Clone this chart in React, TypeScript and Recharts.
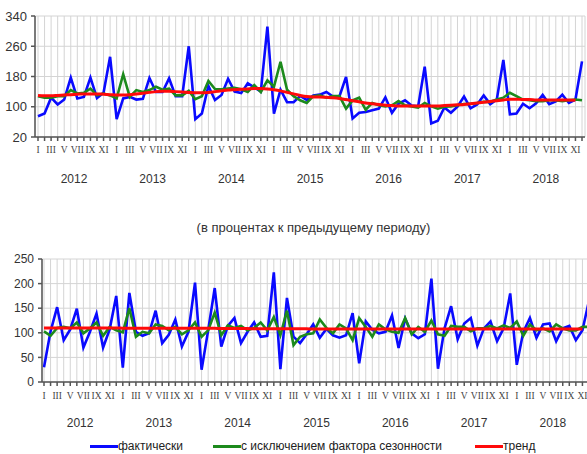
import { LineChart, Line, XAxis, YAxis, CartesianGrid } from 'recharts';

// Industrial output index: level (top) and % to previous month (bottom), Jan 2012 - Dec 2018
const years = ['2012', '2013', '2014', '2015', '2016', '2017', '2018'];
const monthLabels = ['I', 'II', 'III', 'IV', 'V', 'VI', 'VII', 'VIII', 'IX', 'X', 'XI', 'XII'];

const seriesNames = ['фактически', 'с исключением фактора сезонности', 'тренд'];
const seriesColors = ['#0a0aff', '#1c8a1c', '#ff0a0a'];

const subtitle = '(в процентах к предыдущему периоду)';

// top panel
const levelActual = [
  75, 82, 124, 106, 119, 177, 122, 126, 177, 123, 137, 232,
  67, 122, 126, 119, 121, 176, 139, 139, 175, 128, 128, 260,
  67, 82, 155, 118, 131, 174, 140, 136, 162, 151, 140, 312,
  82, 145, 112, 112, 129, 118, 130, 132, 139, 127, 128, 179,
  69, 84, 86, 91, 95, 125, 84, 108, 117, 103, 101, 206,
  56, 63, 98, 84, 100, 127, 96, 106, 130, 107, 119, 224,
  80, 82, 108, 96, 109, 131, 107, 114, 132, 110, 119, 220,
];
const levelAdjusted = [
  128, 124, 124, 128, 128, 144, 135, 137, 148, 130, 135, 130,
  122, 186, 126, 144, 139, 144, 153, 145, 148, 130, 130, 142,
  120, 128, 168, 147, 146, 148, 150, 146, 139, 157, 139, 170,
  153, 219, 145, 128, 117, 110, 128, 130, 124, 128, 128, 95,
  117, 124, 92, 110, 104, 101, 104, 115, 104, 101, 98, 110,
  101, 95, 100, 101, 104, 107, 108, 110, 113, 113, 119, 124,
  137, 128, 119, 117, 115, 115, 117, 117, 115, 117, 119, 117,
];
const levelTrend = [
  130, 129, 129, 130, 131, 132, 133, 134, 134, 134, 133, 132,
  131, 131, 132, 134, 136, 138, 140, 141, 141, 140, 139, 138,
  137, 137, 138, 140, 142, 144, 145, 146, 147, 148, 148, 147,
  145, 142, 138, 134, 130, 127, 126, 126, 125, 124, 122, 119,
  116, 113, 110, 108, 106, 104, 103, 102, 102, 102, 102, 102,
  102, 102, 103, 104, 105, 106, 108, 110, 112, 114, 116, 118,
  120, 120, 119, 119, 118, 118, 118, 118, 118, 118, 117, null,
];
const levelTicks = [20, 100, 180, 260, 340];

// bottom panel
const momActual = [
  30, 103, 152, 85, 107, 149, 70, 102, 139, 70, 107, 175,
  29, 181, 102, 94, 99, 145, 79, 96, 127, 72, 102, 202,
  25, 105, 191, 72, 114, 130, 79, 102, 121, 92, 94, 223,
  26, 171, 92, 79, 97, 117, 90, 108, 95, 90, 95, 140,
  38, 123, 106, 99, 102, 135, 69, 129, 99, 89, 97, 210,
  27, 109, 154, 87, 119, 130, 74, 109, 123, 83, 109, 180,
  35, 102, 130, 90, 117, 119, 83, 109, 114, 85, 105, 165,
];
const momAdjusted = [
  103, 94, 110, 112, 109, 121, 99, 109, 121, 94, 112, 105,
  101, 150, 92, 102, 99, 117, 114, 105, 112, 97, 105, 121,
  92, 105, 141, 95, 115, 110, 114, 105, 110, 121, 105, 132,
  95, 145, 75, 92, 97, 99, 127, 110, 99, 117, 109, 85,
  130, 112, 92, 117, 107, 102, 100, 130, 97, 112, 102, 125,
  97, 94, 114, 112, 112, 103, 109, 109, 114, 109, 115, 110,
  123, 94, 117, 105, 109, 103, 117, 109, 105, 105, 112, 112,
];
const momTrend = [
  110, 110, 110, 110, 110, 110, 110, 110, 110, 110, 110, 110,
  109.5, 109.5, 109.5, 109.5, 109.5, 109.5, 109, 109, 109, 109, 109, 109,
  109, 109, 109, 108.5, 108.5, 108.5, 108.5, 108.5, 108, 108, 108, 108,
  108, 108, 108, 108, 108, 107.5, 107.5, 107.5, 107.5, 107.5, 107.5, 107.5,
  107.5, 107.5, 107.5, 107.5, 107.5, 107.5, 107.5, 107.5, 107.5, 107.5, 107.5, 107.5,
  107.5, 107.5, 107.5, 107.5, 107.5, 107.5, 107.5, 107.5, 107.5, 107.5, 107.5, 107.5,
  107.5, 107.5, 107.5, 107.5, 107.5, 107.5, 107.5, 107.5, 107.5, 107.5, 107.5, null,
];
const momTicks = [0, 50, 100, 150, 200, 250];

const toRows = (a: number[], b: number[], c: (number | null)[]) =>
  a.map((v, i) => ({ idx: i, actual: v, adjusted: b[i], trend: c[i] }));

const levelData = toRows(levelActual, levelAdjusted, levelTrend);
const momData = toRows(momActual, momAdjusted, momTrend);

const lastIdx = levelActual.length - 1;
const monthTicks = levelData.map((d) => d.idx);
const yearTicks = years.map((_, i) => i * 12 + 5.5);

const SANS = '"Liberation Sans", Arial, sans-serif';
const SERIF = '"Liberation Serif", "Times New Roman", serif';
const AXIS = '#555';
const GRID = '#d4d4d4';

function Panel({
  data, ticks, domain, width, height, margin, yWidth, yFont, xPad, yearMargin, monthMargin,
}: {
  data: ReturnType<typeof toRows>;
  ticks: number[];
  domain: [number, number];
  width: number;
  height: number;
  margin: { top: number; right: number; bottom: number; left: number };
  yWidth: number;
  yFont: number;
  xPad: { left: number; right: number };
  yearMargin: number;
  monthMargin: number;
}) {
  return (
    <LineChart width={width} height={height} data={data} margin={margin}>
      <CartesianGrid stroke={GRID} strokeWidth={1} />
      <XAxis
        dataKey="idx"
        type="number"
        domain={[0, lastIdx]}
        ticks={monthTicks}
        interval={0}
        padding={xPad}
        height={22}
        tickSize={4}
        tickMargin={monthMargin}
        stroke={AXIS}
        axisLine={{ stroke: AXIS, strokeWidth: 1.5 }}
        tickLine={{ stroke: AXIS, strokeWidth: 1.5 }}
        tick={{ fontFamily: SERIF, fontSize: 9.5, fill: '#444' }}
        tickFormatter={(v: number) => (v % 2 === 0 ? monthLabels[v % 12] : '')}
      />
      <XAxis
        xAxisId="year"
        type="number"
        domain={[0, lastIdx]}
        ticks={yearTicks}
        interval={0}
        padding={xPad}
        height={36}
        tickSize={0}
        tickMargin={yearMargin}
        axisLine={false}
        tickLine={false}
        tick={{ fontFamily: SANS, fontSize: 12, fill: '#333' }}
        tickFormatter={(v: number) => years[Math.floor(v / 12)]}
      />
      <XAxis
        xAxisId="frame"
        orientation="top"
        type="number"
        domain={[0, lastIdx]}
        height={0}
        tick={false}
        tickLine={false}
        axisLine={{ stroke: AXIS, strokeWidth: 1.5 }}
      />
      <YAxis
        type="number"
        domain={domain}
        ticks={ticks}
        interval={0}
        width={yWidth}
        tickSize={4}
        tickMargin={4}
        axisLine={{ stroke: AXIS, strokeWidth: 1.5 }}
        tickLine={{ stroke: AXIS, strokeWidth: 1.5 }}
        tick={{ fontFamily: SANS, fontSize: yFont, fill: '#333' }}
      />
      <YAxis
        yAxisId="frame"
        orientation="right"
        type="number"
        domain={domain}
        width={0}
        tick={false}
        tickLine={false}
        axisLine={{ stroke: AXIS, strokeWidth: 1.5 }}
      />
      <Line type="linear" dataKey="actual" name={seriesNames[0]} stroke={seriesColors[0]} strokeWidth={2.6} dot={false} isAnimationActive={false} />
      <Line type="linear" dataKey="adjusted" name={seriesNames[1]} stroke={seriesColors[1]} strokeWidth={2.6} dot={false} isAnimationActive={false} />
      <Line type="monotone" dataKey="trend" name={seriesNames[2]} stroke={seriesColors[2]} strokeWidth={3} dot={false} isAnimationActive={false} />
    </LineChart>
  );
}

const legendLeft = [90, 213, 475];

export default function App() {
  return (
    <div style={{ position: 'fixed', left: 0, top: 0, width: 587, height: 454, overflow: 'hidden', background: '#fff' }}>
      <div style={{ position: 'absolute', left: 0, top: 0 }}>
        <Panel
          data={levelData}
          ticks={levelTicks}
          domain={[20, 340]}
          width={587}
          height={200}
          margin={{ top: 16, right: 2, bottom: 5, left: 1 }}
          yWidth={34}
          yFont={13}
          xPad={{ left: 3, right: 3 }}
          monthMargin={5}
          yearMargin={15}
        />
      </div>
      <div
        style={{
          position: 'absolute', left: 0, top: 220, width: 587, textAlign: 'center',
          fontFamily: SANS, fontSize: 13, color: '#333', paddingLeft: 40, boxSizing: 'border-box',
        }}
      >
        {subtitle}
      </div>
      <div style={{ position: 'absolute', left: 0, top: 240 }}>
        <Panel
          data={momData}
          ticks={momTicks}
          domain={[0, 250]}
          width={600}
          height={200}
          margin={{ top: 19, right: 9, bottom: 0, left: 1 }}
          yWidth={41}
          yFont={12}
          xPad={{ left: 2, right: 2 }}
          monthMargin={6}
          yearMargin={14}
        />
      </div>
      {seriesNames.map((name, i) => (
        <div
          key={name}
          style={{
            position: 'absolute', left: legendLeft[i], top: 439, display: 'flex', alignItems: 'center',
            fontFamily: SANS, fontSize: 12, color: '#222', whiteSpace: 'nowrap',
          }}
        >
          <span style={{ display: 'inline-block', width: 28, height: 3, background: seriesColors[i] }} />
          <span>{name}</span>
        </div>
      ))}
    </div>
  );
}
